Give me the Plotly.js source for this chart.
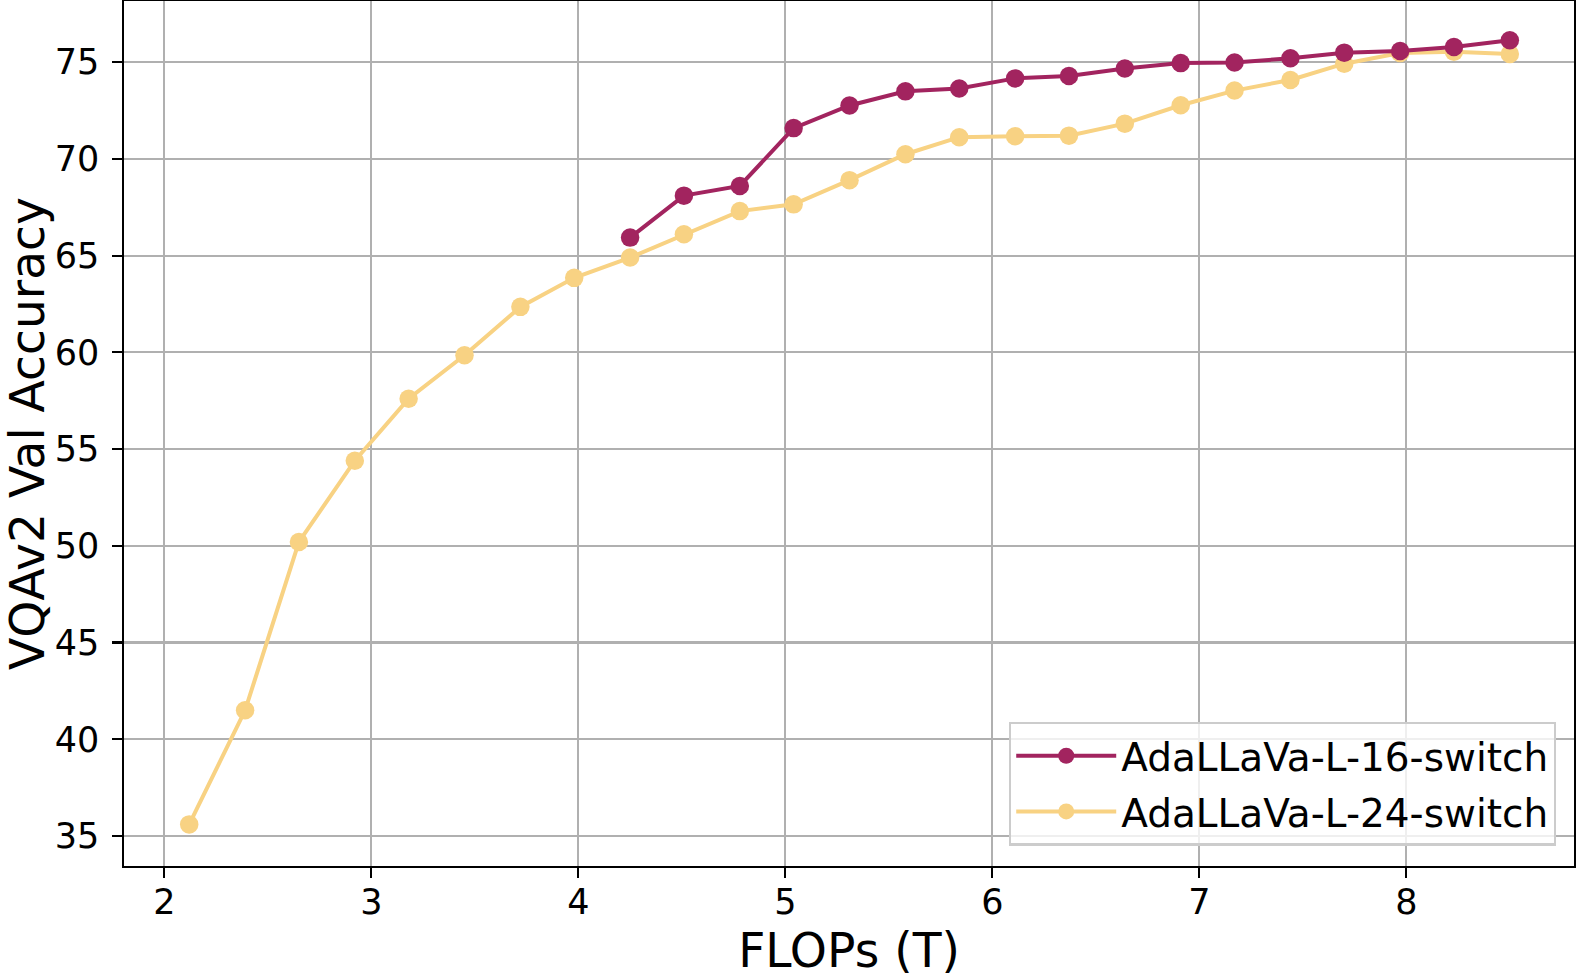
<!DOCTYPE html>
<html>
<head>
<meta charset="utf-8">
<script src="https://cdn.plot.ly/plotly-3.0.1.min.js"></script>
<style>html,body{margin:0;padding:0;background:#fff;}#chart{width:1576px;height:978px;}</style>
</head>
<body>
<div id="chart"></div>
<script>
// Data
const flops24 = [2.12, 2.39, 2.65, 2.92, 3.18, 3.45, 3.72, 3.98, 4.25, 4.51, 4.78, 5.04, 5.31, 5.58, 5.84, 6.11, 6.37, 6.64, 6.91, 7.17, 7.44, 7.70, 7.97, 8.23, 8.50];
const acc24 = [35.6, 41.5, 50.2, 54.4, 57.6, 59.85, 62.35, 63.85, 64.9, 66.1, 67.3, 67.65, 68.9, 70.24, 71.12, 71.17, 71.2, 71.82, 72.77, 73.53, 74.08, 74.92, 75.47, 75.54, 75.42];
const flops16 = [4.25, 4.51, 4.78, 5.04, 5.31, 5.58, 5.84, 6.11, 6.37, 6.64, 6.91, 7.17, 7.44, 7.70, 7.97, 8.23, 8.50];
const acc16 = [65.93, 68.1, 68.6, 71.59, 72.76, 73.49, 73.64, 74.16, 74.28, 74.67, 74.95, 74.98, 75.2, 75.49, 75.58, 75.78, 76.13];
const seriesNames = ["AdaLLaVa-L-16-switch", "AdaLLaVa-L-24-switch"];
const xTicks = [2, 3, 4, 5, 6, 7, 8];
const yTicks = [35, 40, 45, 50, 55, 60, 65, 70, 75];
const xTitle = "FLOPs (T)";
const yTitle = "VQAv2 Val Accuracy";

const purple = "#a2245f";
const yellow = "#f8d283";
const font = "DejaVu Sans, Liberation Sans, sans-serif";

const traces = [
  {x: flops24, y: acc24, name: seriesNames[1], legendgroup: "b", legendrank: 2, mode: "lines+markers",
   line: {color: yellow, width: 4}, marker: {color: yellow, size: 18.5}},
  {x: flops16, y: acc16, name: seriesNames[0], legendgroup: "a", legendrank: 1, mode: "lines+markers",
   line: {color: purple, width: 4}, marker: {color: purple, size: 18.5}}
];

const axisCommon = {
  showgrid: true, gridcolor: "#b0b0b0", gridwidth: 2.2,
  showline: true, linecolor: "#000", linewidth: 2.2, mirror: true,
  ticks: "outside", ticklen: 9.5, tickwidth: 2.2, tickcolor: "#000",
  zeroline: false,
  tickfont: {family: font, size: 35, color: "#000"}
};

const layout = {
  width: 1576, height: 978,
  paper_bgcolor: "#fff", plot_bgcolor: "#fff",
  margin: {l: 124, r: 2, t: 1, b: 112},
  showlegend: true,
  xaxis: Object.assign({}, axisCommon, {
    range: [1.805, 8.81], tickvals: xTicks, ticktext: xTicks.map(String),
    ticklabelstandoff: -6,
    title: {text: xTitle, font: {family: font, size: 47.2, color: "#000"}, standoff: 20}
  }),
  yaxis: Object.assign({}, axisCommon, {
    range: [33.45, 78.16], tickvals: yTicks, ticktext: yTicks.map(String),
    ticklabelstandoff: 6,
    title: {text: yTitle, font: {family: font, size: 47.2, color: "#000"}, standoff: 15}
  }),
  legend: {
    x: 0.9876, y: 0.0235, xanchor: "right", yanchor: "bottom",
    traceorder: "grouped", tracegroupgap: 2,
    bgcolor: "rgba(255,255,255,0.8)", bordercolor: "#cccccc", borderwidth: 2.2,
    font: {family: font, size: 39, color: "#000"},
    itemwidth: 100
  }
};

Plotly.newPlot("chart", traces, layout, {staticPlot: true, displayModeBar: false});
</script>
</body>
</html>
